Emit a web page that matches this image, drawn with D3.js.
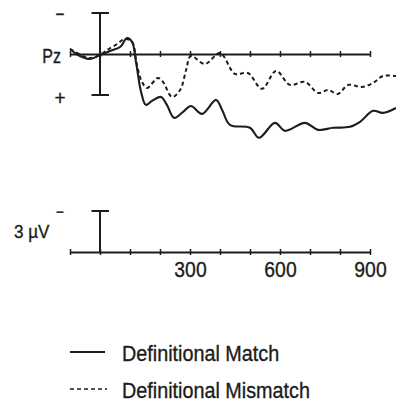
<!DOCTYPE html>
<html>
<head>
<meta charset="utf-8">
<script src="https://cdn.jsdelivr.net/npm/d3@7"></script>
<style>
    body { margin: 0; background: #fff; }
    text { font-family: "Liberation Sans", Arial, sans-serif; fill: #1c1c1c; stroke: #1c1c1c; stroke-width: 0.35; }
</style>
</head>
<body>
<svg id="chart" width="396" height="406"></svg>
<script>
// ERP at Pz, microvolts (negative plotted up), time in ms
const matchTimes = [-100, -67, -33, 0, 33, 67, 90, 107, 120, 137, 153, 173, 203, 223, 247, 277, 303, 340, 387, 407, 433, 500, 530, 583, 617, 683, 727, 777, 833, 867, 910, 943, 987];
const matchValues = [-0.37, 0.15, 0.37, 0.07, -0.22, -0.51, -1.17, -0.88, 0.58, 2.78, 3.72, 3.43, 3.14, 3.72, 4.67, 4.23, 3.8, 4.38, 3.36, 4.09, 5.18, 5.4, 6.13, 5.04, 5.62, 5.04, 5.55, 5.4, 5.33, 4.96, 4.16, 4.31, 3.95];

const mismatchTimes = [-100, -57, -33, 0, 23, 57, 83, 107, 123, 140, 157, 193, 210, 240, 267, 287, 303, 350, 400, 450, 493, 540, 587, 633, 683, 727, 760, 793, 827, 873, 910, 943, 987];
const mismatchValues = [-0.37, 0.15, 0.29, 0.07, -0.29, -0.73, -1.1, -0.88, 0.8, 2.04, 2.48, 1.75, 2.04, 3.14, 2.63, 1.17, 0.15, 0.73, -0.07, 1.46, 1.39, 2.55, 1.24, 2.26, 2.04, 2.85, 2.63, 2.92, 2.26, 2.41, 2.12, 1.61, 1.61];

const timeTicks = [-100, 0, 100, 200, 300, 400, 500, 600, 700, 800, 900];
const timeLabels = [300, 600, 900];
const seriesNames = ["Definitional Match", "Definitional Mismatch"];

const svg = d3.select("#chart");
const ink = "#1c1c1c";

const x = d3.scaleLinear().domain([-100, 900]).range([70, 370]);
const y = d3.scaleLinear().domain([-3, 3]).range([13, 95]);
// calibration panel: same µV scale, shifted down
const yCal = d3.scaleLinear().domain([-3, 0]).range([211, 252]);

// condensed-looking label: placed at (px,py), squeezed horizontally
function label(sel, px, py, str, size, squeeze, anchor) {
    return sel.append("text")
        .attr("transform", `translate(${px},${py}) scale(${squeeze},1)`)
        .attr("text-anchor", anchor || "start")
        .attr("font-size", size)
        .text(str);
}

// ---- top panel: Pz
const pzPanel = svg.append("g");

pzPanel.append("g")
    .attr("transform", `translate(0,${y(0)})`)
    .call(d3.axisBottom(x).tickValues(timeTicks).tickSize(3).tickSizeOuter(0).tickFormat(""))
    .call(g => g.select(".domain").attr("stroke", ink).attr("stroke-width", 2))
    .call(g => g.selectAll(".tick line").attr("y1", -3).attr("y2", 3).attr("stroke", ink).attr("stroke-width", 1.5));

// voltage bar ±3 µV
pzPanel.append("line")
    .attr("x1", x(0)).attr("x2", x(0))
    .attr("y1", y(-3)).attr("y2", y(3))
    .attr("stroke", ink).attr("stroke-width", 2);
[-3, 3].forEach(v => {
    pzPanel.append("line")
        .attr("x1", x(0) - 8.5).attr("x2", x(0) + 9)
        .attr("y1", y(v)).attr("y2", y(v))
        .attr("stroke", ink).attr("stroke-width", 2);
});

label(pzPanel, 61, 63, "Pz", 20, 0.8, "end");
label(pzPanel, 60, 20, "\u2212", 17, 0.9, "middle");
label(pzPanel, 60, 105, "+", 20, 0.95, "middle");

const line = d3.line()
    .x(d => x(d[0]))
    .y(d => y(d[1]))
    .curve(d3.curveCatmullRom.alpha(0.5));

pzPanel.append("path")
    .datum(d3.zip(matchTimes, matchValues))
    .attr("d", line)
    .attr("fill", "none").attr("stroke", ink).attr("stroke-width", 2.1);

pzPanel.append("path")
    .datum(d3.zip(mismatchTimes, mismatchValues))
    .attr("d", line)
    .attr("fill", "none").attr("stroke", ink).attr("stroke-width", 2)
    .attr("stroke-dasharray", "4,3");

// ---- calibration panel
const cal = svg.append("g");

cal.append("g")
    .attr("transform", `translate(0,${yCal(0)})`)
    .call(d3.axisBottom(x).tickValues(timeTicks).tickSize(3).tickSizeOuter(0)
        .tickFormat(d => timeLabels.includes(d) ? d : ""))
    .call(g => g.select(".domain").attr("stroke", ink).attr("stroke-width", 2))
    .call(g => g.selectAll(".tick line").attr("y1", -3).attr("y2", 3).attr("stroke", ink).attr("stroke-width", 1.5))
    .call(g => g.selectAll(".tick text")
        .attr("y", null).attr("dy", 0)
        .attr("transform", "translate(0,25) scale(0.88,1)")
        .attr("font-size", 22)
        .attr("font-family", "Liberation Sans, Arial, sans-serif")
        .attr("fill", ink).attr("stroke", ink).attr("stroke-width", 0.35));

cal.append("line")
    .attr("x1", x(0)).attr("x2", x(0))
    .attr("y1", yCal(-3)).attr("y2", yCal(0))
    .attr("stroke", ink).attr("stroke-width", 2);
cal.append("line")
    .attr("x1", x(0) - 8.5).attr("x2", x(0) + 9)
    .attr("y1", yCal(-3)).attr("y2", yCal(-3))
    .attr("stroke", ink).attr("stroke-width", 2);

label(cal, 14, 238, "3 \u00b5V", 18, 0.95);
label(cal, 60, 217, "\u2212", 15, 0.9, "middle");

// ---- legend
const legend = svg.append("g")
    .selectAll("g")
    .data(seriesNames)
    .join("g")
    .attr("transform", (d, i) => `translate(70,${352 + i * 37})`);

legend.append("line")
    .attr("x1", 0).attr("x2", (d, i) => i ? 37 : 35)
    .attr("y1", 0).attr("y2", 0)
    .attr("stroke", ink)
    .attr("stroke-width", (d, i) => i ? 1.3 : 1.8)
    .attr("stroke-dasharray", (d, i) => i ? "4,3" : null);

legend.append("text")
    .attr("transform", "translate(52,9) scale(0.9,1)")
    .attr("font-size", 22)
    .text(d => d);
</script>
</body>
</html>
